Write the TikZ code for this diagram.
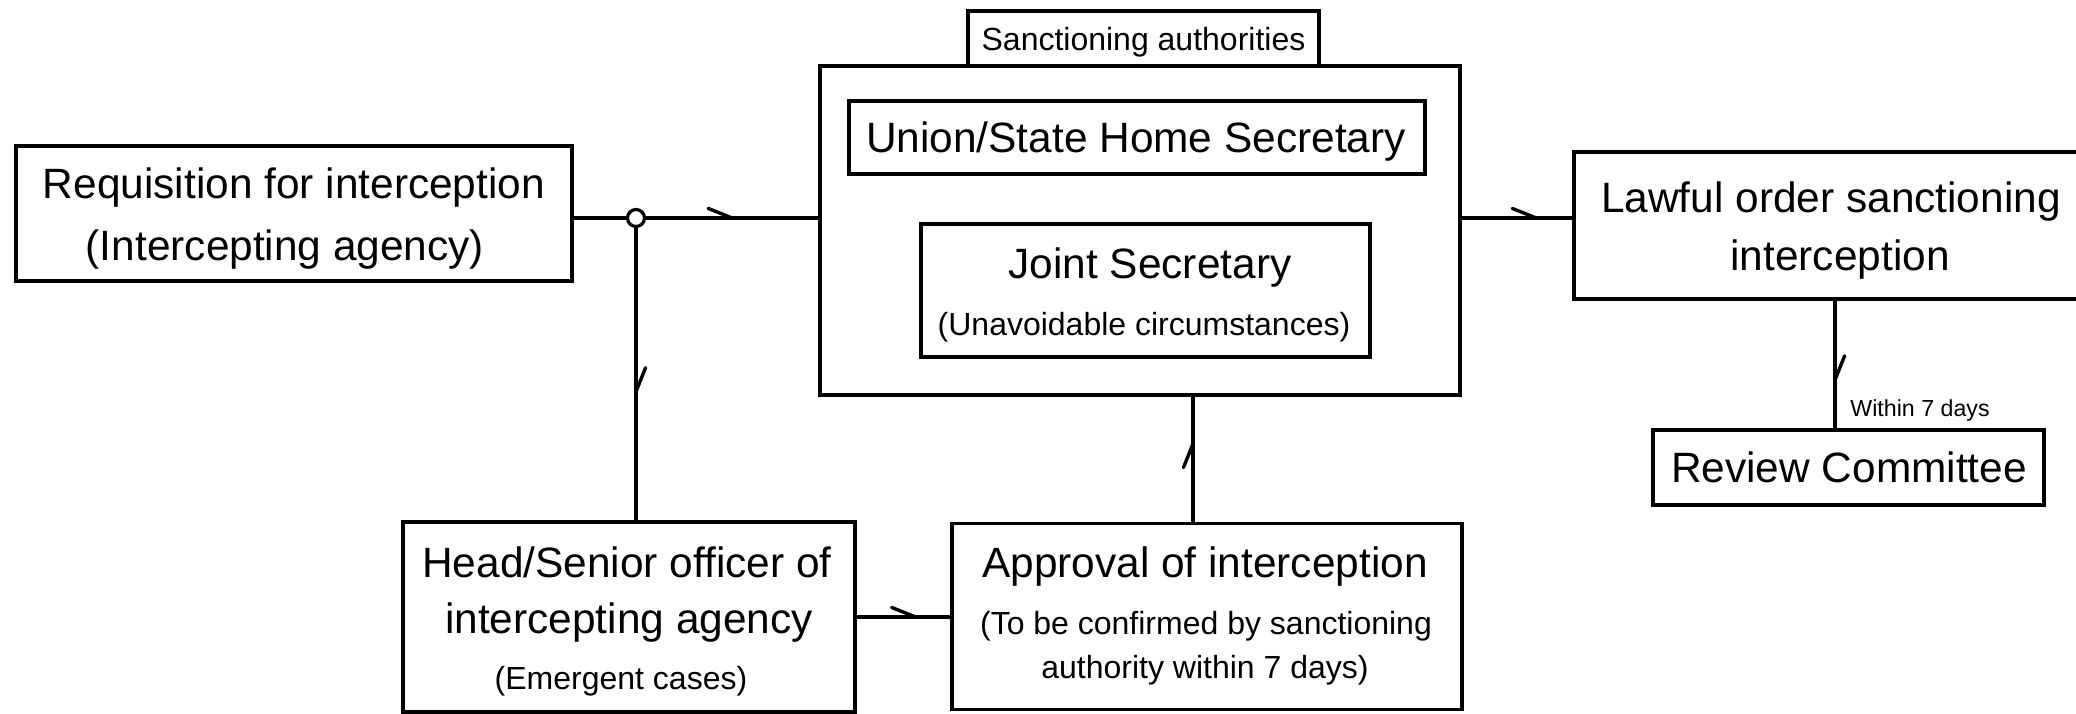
\documentclass[tikz,border=0pt]{standalone}
\usepackage{fontspec}
\setmainfont{Liberation Sans}
\usetikzlibrary{decorations.markings,calc}
\tikzset{
  box/.style={draw, line width=1.9pt, rectangle, inner sep=0pt},
  big/.style={inner sep=0pt, font=\fontsize{21.2}{25}\selectfont, text height=15.2pt, text depth=0pt},
  small/.style={inner sep=0pt, font=\fontsize{16}{19}\selectfont, text height=11.5pt, text depth=0pt},
  tiny/.style={inner sep=0pt, font=\fontsize{11.6}{14}\selectfont, text height=8.3pt, text depth=0pt},
  conn/.style={line width=1.7pt},
  tickat/.style={postaction={decorate}, decoration={markings, mark=at position #1 with {\draw[line width=1.7pt, line cap=round] (-12pt,4.8pt)--(0pt,0pt);}}},
}
\begin{document}
\begin{tikzpicture}[x=0.5pt,y=-0.5pt]
\clip (0,0) rectangle (2076,713);
\fill[white] (0,0) rectangle (2076,713);

% boxes
\node[box, minimum width=278pt, minimum height=67.5pt] (req) at (294,213.5) {};
\node[box, minimum width=320pt, minimum height=164.5pt] (sanc) at (1140,230.5) {};
\node[box, small, minimum width=175.5pt, minimum height=27.5pt] (tab) at (1143.5,38.5) {Sanctioning authorities};
\node[box, minimum width=288pt, minimum height=36.5pt] (union) at (1137,137.5) {};
\node[box, minimum width=224.5pt, minimum height=66.5pt] (joint) at (1145.5,290.5) {};
\node[box, minimum width=261pt, minimum height=73.5pt] (lawful) at (1835,225.5) {};
\node[box, minimum width=195.5pt, minimum height=37.5pt] (review) at (1848.5,467.5) {};
\node[box, minimum width=226pt, minimum height=95pt] (head) at (629,617) {};
\node[box, minimum width=255pt, minimum height=93pt] (approval) at (1207,616.5) {};

% texts
\node[big] (reqA) at (294,183) {Requisition for interception};
\node[big] (reqB) at (285,245) {(Intercepting agency)};
\node[big] (unionT) at (1136,137) {Union/State Home Secretary};
\node[big] (jointA) at (1150,263) {Joint Secretary};
\node[small] (jointB) at (1144,324) {(Unavoidable circumstances)};
\node[big] (lawA) at (1831,197) {Lawful order sanctioning};
\node[big] (lawB) at (1840,255) {interception};
\node[big] (reviewT) at (1849,467) {Review Committee};
\node[tiny, anchor=west] (within) at (1850,408) {Within 7 days};
\node[big] (headA) at (627,562) {Head/Senior officer of};
\node[big] (headB) at (629,618) {intercepting agency};
\node[small] (headC) at (621,678) {(Emergent cases)};
\node[big] (appA) at (1205,562) {Approval of interception};
\node[small] (appB) at (1206,623) {(To be confirmed by sanctioning};
\node[small] (appC) at (1205,667) {authority within 7 days)};

% junction
\node[draw, circle, line width=1.6pt, minimum size=8.5pt, inner sep=0pt, fill=white] (jn) at (636,218) {};

% connectors
\draw[conn] (req.east |- jn) -- (jn.west);
\draw[conn, tickat=0.5] (jn.east) -- (jn -| sanc.west);
\draw[conn, tickat=0.56] (jn.south) -- (jn |- head.north);
\draw[conn, tickat=0.675] (sanc.east |- jn) -- (lawful.west |- jn);
\draw[conn, tickat=0.62] (lawful.south) -- (lawful.south |- review.north);
\draw[conn, tickat=0.63] (head.east) -- (head.east -| approval.west);
\draw[conn, tickat=0.625] ([xshift=-7pt]approval.north) -- ([xshift=-7pt]approval.north |- sanc.south);
\end{tikzpicture}
\end{document}
